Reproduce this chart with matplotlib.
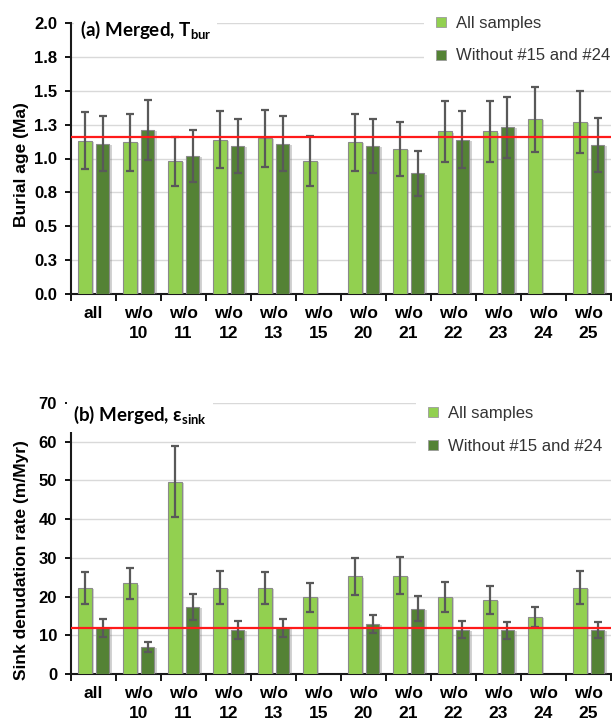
import matplotlib
matplotlib.use("Agg")
import matplotlib.pyplot as plt
import matplotlib.patheffects as pe
from matplotlib.lines import Line2D
import numpy as np

# Categories (x-axis groups)
categories = ["all", "w/o\n10", "w/o\n11", "w/o\n12", "w/o\n13", "w/o\n15",
              "w/o\n20", "w/o\n21", "w/o\n22", "w/o\n23", "w/o\n24", "w/o\n25"]

# (a) Burial age, Ma
burial_all = [1.13, 1.12, 0.98, 1.14, 1.15, 0.98, 1.12, 1.07, 1.20, 1.20, 1.29, 1.27]
burial_all_err = [0.21, 0.21, 0.18, 0.21, 0.21, 0.185, 0.21, 0.20, 0.225, 0.225, 0.24, 0.23]
burial_wo = [1.11, 1.21, 1.02, 1.09, 1.11, np.nan, 1.09, 0.89, 1.14, 1.23, np.nan, 1.10]
burial_wo_err = [0.20, 0.22, 0.19, 0.20, 0.20, np.nan, 0.20, 0.165, 0.21, 0.225, np.nan, 0.20]
burial_ref = 1.16
burial_ticks = [0.0, 0.25, 0.5, 0.75, 1.0, 1.25, 1.5, 1.75, 2.0]
burial_ticklabels = ["0.0", "0.3", "0.5", "0.8", "1.0", "1.3", "1.5", "1.8", "2.0"]

# (b) Sink denudation rate, m/Myr
sink_all = [22.2, 23.4, 49.7, 22.3, 22.2, 19.8, 25.2, 25.4, 19.8, 19.1, 14.7, 22.3]
sink_all_err = [4.2, 4.1, 9.2, 4.2, 4.1, 3.7, 4.8, 4.75, 3.9, 3.6, 2.6, 4.2]
sink_wo = [11.8, 7.0, 17.3, 11.3, 11.9, np.nan, 12.9, 16.9, 11.4, 11.3, np.nan, 11.3]
sink_wo_err = [2.3, 1.35, 3.3, 2.3, 2.3, np.nan, 2.4, 3.2, 2.2, 2.15, np.nan, 2.1]
sink_ref = 12.0
sink_ticks = [0, 10, 20, 30, 40, 50, 60, 70]
sink_ticklabels = ["0", "10", "20", "30", "40", "50", "60", "70"]

series_labels = ["All samples", "Without #15 and #24"]

LIGHT = "#92D050"
DARK = "#548235"
EDGE = "#8a8a8a"
ERR = "#595959"
GRID = "#d9d9d9"
TICKFONT = "Liberation Sans"
TITLEFONT = ["Lato", "DejaVu Sans"]

plt.rcParams["mathtext.fontset"] = "custom"
plt.rcParams["mathtext.rm"] = "Lato:bold"
plt.rcParams["mathtext.bf"] = "Lato:bold"
plt.rcParams["mathtext.it"] = "Lato:bold"

W, H = 612, 720
fig = plt.figure(figsize=(W / 100, H / 100), dpi=100)

shadow = [pe.SimplePatchShadow(offset=(1.8, -0.8), shadow_rgbFace="#808080", alpha=0.35),
          pe.Normal()]


def panel(rect, v_all, e_all, v_wo, e_wo, ref, ticks, ticklabels, ylabel, ylabel_y,
          title, title_xy, leg_anchor):
    ax = fig.add_axes(rect)
    x = np.arange(len(categories))
    bw = 0.31
    ekw = dict(ecolor=ERR, elinewidth=1.6, capsize=3.0, capthick=1.6)
    b1 = ax.bar(x - 0.19, v_all, bw, color=LIGHT, edgecolor=EDGE, linewidth=0.8,
                yerr=e_all, error_kw=ekw, zorder=3)
    b2 = ax.bar(x + 0.20, v_wo, bw, color=DARK, edgecolor=EDGE, linewidth=0.8,
                yerr=e_wo, error_kw=ekw, zorder=3)
    for p in list(b1.patches) + list(b2.patches):
        p.set_path_effects(shadow)
    ax.axhline(ref, color="#ff1a1a", lw=1.6, zorder=5)

    ax.set_xlim(-0.5, len(categories) - 0.5)
    ax.set_ylim(ticks[0], ticks[-1])
    ax.set_yticks(ticks)
    ax.set_yticklabels(ticklabels, fontfamily=TICKFONT, fontweight="bold", fontsize=12)
    ax.yaxis.grid(True, color=GRID, lw=1.0, zorder=0)
    ax.set_axisbelow(True)

    ax.set_xticks(np.arange(-0.5, len(categories), 1.0))
    ax.set_xticklabels([])
    ax.set_xticks(x, minor=True)
    ax.set_xticklabels(categories, minor=True, fontfamily=TICKFONT, fontweight="bold",
                       fontsize=12.5, linespacing=1.35, va="top")
    ax.tick_params(axis="x", which="major", direction="out", length=5, width=1.3)
    ax.tick_params(axis="x", which="minor", length=0, pad=9)
    ax.tick_params(axis="y", direction="out", length=4, width=1.3, pad=6)

    for s in ("top", "right"):
        ax.spines[s].set_visible(False)
    for s in ("left", "bottom"):
        ax.spines[s].set_linewidth(1.5)
        ax.spines[s].set_color("#1a1a1a")

    fig.text(22 / W, 1 - ylabel_y / H, ylabel, rotation=90, ha="center", va="center",
             fontfamily=TICKFONT, fontweight="bold", fontsize=12.5)

    fig.text(title_xy[0] / W, 1 - title_xy[1] / H, title, ha="left", va="center",
             fontfamily=TITLEFONT, fontweight="bold", fontsize=13.5, zorder=10,
             bbox=dict(facecolor="white", edgecolor="none", pad=4))

    handles = [Line2D([], [], ls="none", marker="s", markersize=7, markerfacecolor=c,
                      markeredgecolor="#9a9a9a", markeredgewidth=0.6)
               for c in (LIGHT, DARK)]
    leg = ax.legend(handles, series_labels, loc="upper left",
                    bbox_to_anchor=(leg_anchor[0] / W, 1 - leg_anchor[1] / H),
                    bbox_transform=fig.transFigure, frameon=True, fancybox=False,
                    framealpha=1.0, edgecolor="none", facecolor="white",
                    prop=dict(family=TICKFONT, size=12), labelspacing=1.05,
                    handlelength=0.8, handletextpad=0.5, borderpad=0.6,
                    borderaxespad=0, labelcolor="#333333")
    leg.set_zorder(10)
    return ax


panel([71 / W, 1 - 294 / H, 540 / W, 271 / H],
      burial_all, burial_all_err, burial_wo, burial_wo_err, burial_ref,
      burial_ticks, burial_ticklabels, "Burial age (Ma)", 165,
      r"(a) Merged, T$_{\mathrm{bur}}$", (80, 30), (424, 6))

panel([71 / W, 1 - 674 / H, 540 / W, 271 / H],
      sink_all, sink_all_err, sink_wo, sink_wo_err, sink_ref,
      sink_ticks, sink_ticklabels, "Sink denudation rate (m/Myr)", 560,
      "(b) Merged, ε$_{\\mathrm{sink}}$", (73, 415), (416, 396))

fig.savefig("out.png", dpi=100)
